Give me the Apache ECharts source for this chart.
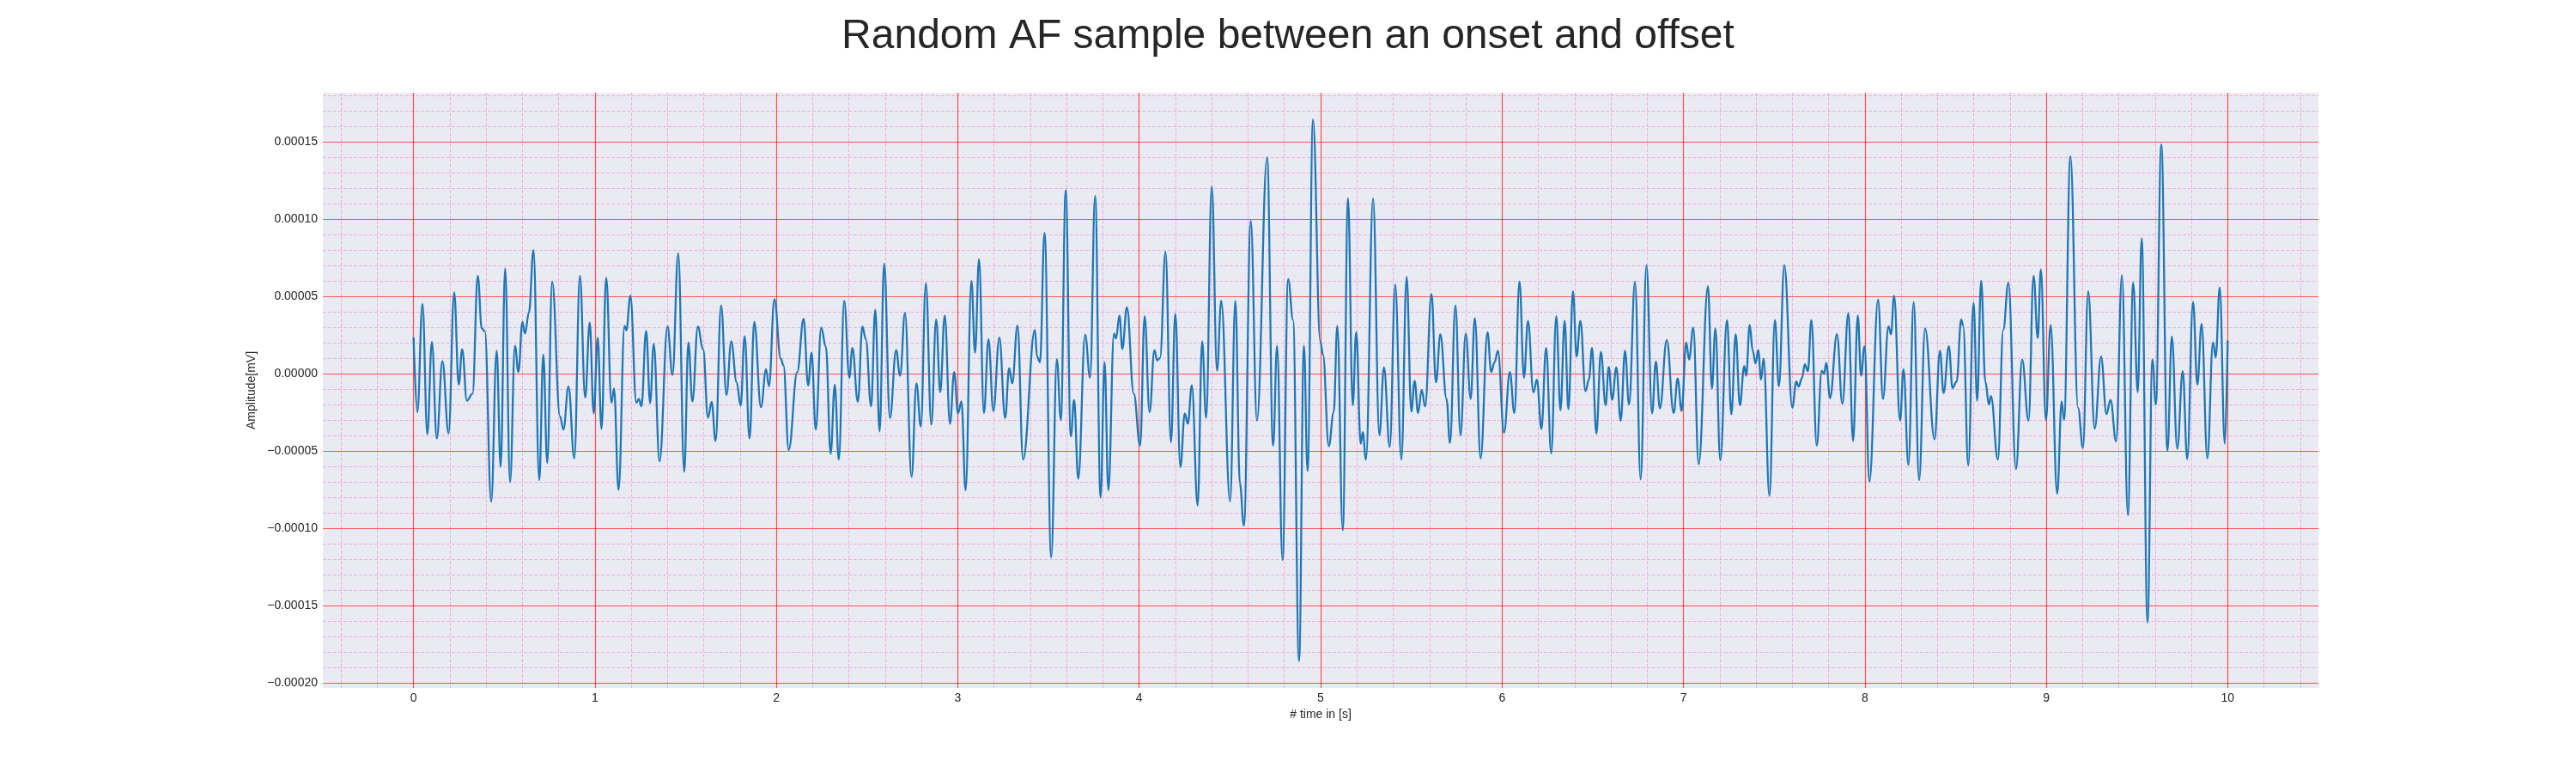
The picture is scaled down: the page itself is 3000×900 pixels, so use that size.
<!DOCTYPE html>
<html>
<head>
<meta charset="utf-8">
<title>Random AF sample between an onset and offset</title>
<script src="https://cdn.jsdelivr.net/npm/echarts@6.0.0/dist/echarts.min.js"></script>
<style>
  html, body { margin: 0; padding: 0; background: #ffffff; }
  #chart { width: 3000px; height: 900px; }
</style>
</head>
<body>
<div id="chart"></div>
<script>
// turning points of the trace
// time [s]
const timeS = [
  0.000, 0.021, 0.049, 0.076, 0.101, 0.128, 0.159, 0.193, 0.224, 0.249, 0.268, 0.294, 0.325, 0.354, 0.376, 0.393,
  0.428, 0.458, 0.480, 0.505, 0.532, 0.559, 0.578, 0.600, 0.614, 0.636, 0.661, 0.693, 0.715, 0.737, 0.764, 0.807,
  0.826, 0.854, 0.886, 0.917, 0.946, 0.971, 0.993, 1.015, 1.036, 1.062, 1.091, 1.105, 1.130, 1.163, 1.173, 1.195,
  1.228, 1.242, 1.256, 1.282, 1.304, 1.324, 1.356, 1.400, 1.427, 1.459, 1.492, 1.515, 1.537, 1.567, 1.596, 1.623,
  1.643, 1.665, 1.695, 1.725, 1.751, 1.781, 1.803, 1.825, 1.852, 1.878, 1.915, 1.943, 1.959, 1.989,
  2.024, 2.039, 2.068, 2.115, 2.150, 2.175, 2.194, 2.217, 2.247, 2.273, 2.299, 2.322, 2.344, 2.374, 2.402, 2.419,
  2.449, 2.474, 2.493, 2.522, 2.545, 2.569, 2.594, 2.626, 2.660, 2.682, 2.709, 2.745, 2.772, 2.796, 2.824, 2.854,
  2.881, 2.903, 2.928, 2.957, 2.980, 3.001, 3.020, 3.043, 3.075, 3.095, 3.117, 3.144, 3.169, 3.196, 3.229, 3.261,
  3.283, 3.300, 3.329, 3.360, 3.425, 3.437, 3.453, 3.478, 3.515, 3.546, 3.568, 3.595, 3.623, 3.641, 3.664, 3.702,
  3.729, 3.757, 3.787, 3.809, 3.830, 3.861, 3.872, 3.891, 3.907, 3.932, 3.970, 4.005, 4.030,
  4.057, 4.084, 4.099, 4.115, 4.145, 4.175, 4.199, 4.227, 4.251, 4.268, 4.290, 4.322, 4.347, 4.369, 4.400, 4.429,
  4.452, 4.501, 4.530, 4.555, 4.577, 4.615, 4.649, 4.705, 4.738, 4.760, 4.790, 4.821, 4.848, 4.881, 4.908, 4.928,
  4.958, 4.998, 5.013, 5.045, 5.072, 5.092, 5.122, 5.151, 5.177, 5.196, 5.221, 5.232, 5.250, 5.289, 5.324, 5.349,
  5.381, 5.411, 5.445, 5.474, 5.500, 5.518, 5.537, 5.557, 5.576, 5.611, 5.636, 5.660, 5.694, 5.713, 5.743, 5.771,
  5.800, 5.827, 5.850, 5.882, 5.920, 5.940, 5.959, 5.977, 6.011,
  6.043, 6.068, 6.096, 6.121, 6.143, 6.173, 6.192, 6.217, 6.243, 6.271, 6.299, 6.322, 6.345, 6.366, 6.391, 6.411,
  6.432, 6.460, 6.479, 6.496, 6.520, 6.545, 6.571, 6.588, 6.607, 6.630, 6.654, 6.678, 6.700, 6.733, 6.764, 6.796,
  6.827, 6.848, 6.870, 6.908, 6.946, 6.968, 6.990, 7.015, 7.031, 7.054, 7.084, 7.135, 7.157, 7.176, 7.203, 7.240,
  7.264, 7.288, 7.311, 7.335, 7.346, 7.365, 7.382, 7.398, 7.412, 7.428, 7.442, 7.474, 7.504, 7.526, 7.556, 7.600,
  7.622, 7.635, 7.654, 7.669, 7.686, 7.705, 7.735, 7.762, 7.775, 7.787, 7.808, 7.846, 7.876, 7.909, 7.935, 7.961,
  7.979, 7.998,
  8.025, 8.073, 8.100, 8.130, 8.144, 8.161, 8.194, 8.213, 8.240, 8.269, 8.299, 8.332, 8.384, 8.414, 8.434, 8.463,
  8.483, 8.506, 8.531, 8.542, 8.570, 8.599, 8.619, 8.641, 8.664, 8.684, 8.695, 8.733, 8.763, 8.791, 8.833, 8.867,
  8.902, 8.930, 8.953, 8.970, 8.998, 9.024, 9.060, 9.085, 9.098, 9.133, 9.175, 9.202, 9.231, 9.267, 9.302, 9.332,
  9.354, 9.385, 9.417, 9.450, 9.479, 9.504, 9.526, 9.558, 9.585, 9.604, 9.634, 9.668, 9.692, 9.722, 9.752, 9.777,
  9.809, 9.833, 9.856, 9.888, 9.919, 9.934, 9.956, 9.984, 10.000
];
// amplitude, in units of 1e-5 mV (the y axis runs in these units, labels show mV)
const ampE5 = [
  2.36, -2.49, 4.53, -3.90, 2.06, -4.18, 0.82, -3.86, 5.27, -0.70, 1.59, -1.74, -1.29, 6.34, 2.94, 2.74,
  -8.28, 1.49, -6.02, 6.82, -7.01, 1.82, 0.12, 3.36, 2.61, 3.98, 8.01, -6.89, 1.24, -5.77, 5.97, -2.74,
  -3.61, -0.82, -5.47, 6.34, -1.54, 3.31, -2.56, 2.34, -3.56, 6.22, -1.87, -0.95, -7.51, 3.11, 2.81, 5.05,
  -1.87, -1.62, -2.11, 2.79, -1.89, 1.92, -5.67, 3.08, -0.07, 7.81, -6.34, 2.04, -1.79, 3.06, 1.60, -2.84,
  -1.82, -4.35, 4.43, -1.37, 2.11, -0.55, -2.06, 2.44, -4.18, 3.36, -2.16, 0.30, -0.80, 4.83,
  0.99, 0.55, -4.93, 0.12, 3.56, -0.75, 1.37, -3.61, 2.99, 1.74, -5.17, -0.70, -5.55, 4.73, -0.25, 1.67,
  -1.82, 3.06, 2.24, -2.11, 4.15, -3.73, 7.14, -2.86, 1.54, -0.12, 3.96, -6.67, -0.62, -3.41, 5.87, -3.28,
  3.53, -1.19, 3.78, -3.23, 0.12, -2.56, -1.79, -7.54, 6.02, 1.37, 7.41, -2.54, 2.24, -2.41, 2.36, -2.86,
  0.37, -0.62, 3.13, -5.55, 2.84, 1.12, 0.75, 9.13, -11.89, 0.95, -2.99, 11.89, -4.05, -1.69, -6.79, 2.54,
  -0.25, 11.52, -8.01, 0.75, -7.54, 2.61, 2.29, 3.78, 1.62, 4.30, -1.29, -4.65, 3.73,
  -2.49, 1.54, 0.87, 1.04, 7.91, -4.43, 3.88, -6.04, -2.56, -3.23, -0.75, -8.53, 2.11, -2.86, 12.14, 0.20,
  4.73, -8.26, 4.73, -7.09, -9.83, 9.90, -3.03, 14.00, -4.65, 1.82, -12.06, 6.14, 3.48, -18.60, 1.82, -6.29,
  16.47, 2.11, 1.24, -4.68, -2.49, 3.11, -10.12, 11.37, -2.04, 2.71, -4.53, -3.78, -5.55, 11.37, -3.98, 0.42,
  -4.73, 5.77, -5.55, 6.27, -2.44, -0.45, -2.54, -1.04, -2.11, 5.17, -0.55, 2.56, -1.62, -4.48, 4.43, -3.98,
  2.61, -1.62, 3.61, -5.47, 2.69, 0.12, 0.75, 1.49, -3.81,
  0.12, -2.54, 5.97, -0.25, 3.43, -1.20, -0.37, -3.56, 1.67, -5.15, 3.73, -2.36, 3.43, -2.29, 5.35, 1.12,
  3.43, -1.12, -0.37, 1.67, -3.86, 1.42, -2.04, 0.45, -1.69, 0.42, -3.03, 1.49, -1.99, 5.97, -6.84, 7.04,
  -2.56, 0.80, -2.24, 2.19, -2.54, -0.30, -2.41, 2.04, 0.92, 2.99, -5.85, 5.67, -0.95, 2.94, -5.60, 3.48,
  -2.61, 2.56, -2.04, 0.50, -0.12, 3.16, 1.49, 0.67, 1.54, -0.37, 1.00, -7.91, 3.48, -0.80, 7.04, -2.19,
  -0.50, -0.82, -0.25, 0.62, 0.17, 3.48, -4.65, 0.20, 0.00, 0.70, -1.57, 2.56, -1.94, 3.93, -4.35, 3.78,
  -0.12, 1.79,
  -6.97, 4.80, -1.62, 3.08, 2.56, 5.05, -3.03, 0.30, -5.90, 4.65, -6.89, 2.94, -4.23, 1.49, -1.24, 1.79,
  -0.92, -0.50, 3.53, 3.11, -5.92, 4.60, -1.74, 6.02, -0.50, -1.99, -1.44, -5.55, 2.86, 5.90, -6.17, 0.92,
  -3.03, 6.34, 2.31, 6.77, -2.99, 3.16, -7.76, -1.79, -2.99, 14.10, -2.20, -4.80, 5.35, -3.55, 1.12, -2.61,
  -1.69, -4.38, 6.39, -9.15, 5.90, -1.19, 8.78, -16.09, 0.92, -1.99, 14.85, -4.98, 2.41, -4.85, 0.17, -5.52,
  4.65, -0.70, 3.23, -5.47, 2.04, 1.07, 5.60, -4.53, 2.16
];
const AMP_UNIT = 1e-5;

const xMajorTicks = [0, 1, 2, 3, 4, 5, 6, 7, 8, 9, 10];
// in 1e-5 mV
const yMajorTicks = [-20, -15, -10, -5, 0, 5, 10, 15];

const FONT = '"Liberation Sans", Arial, sans-serif';
const TEXT = '#262626';
const MAJOR = 'rgba(255,0,0,0.65)';
const MINOR = 'rgba(240,110,200,0.45)';

// minor grid: every 0.2 s and every 1e-5 mV
const xMinorTicks = [];
for (let k = -2; k <= 52; k++) {
  if (k % 5 !== 0) xMinorTicks.push(+(k * 0.2).toFixed(1));
}
const yMinorTicks = [];
for (let k = -20; k <= 18; k++) {
  if (k % 5 !== 0) yMinorTicks.push(k);
}

const signal = timeS.map((t, i) => [t, ampE5[i]]);

const gridLines = [];
xMinorTicks.forEach(v => gridLines.push({ xAxis: v, lineStyle: { color: MINOR, width: 1, type: [4, 2] } }));
yMinorTicks.forEach(v => gridLines.push({ yAxis: v, lineStyle: { color: MINOR, width: 1, type: [4, 2] } }));
xMajorTicks.forEach(v => gridLines.push({ xAxis: v, lineStyle: { color: MAJOR, width: 1.2, type: 'solid' } }));
yMajorTicks.forEach(v => gridLines.push({ yAxis: v, lineStyle: { color: MAJOR, width: 1.2, type: 'solid' } }));

const chart = echarts.init(document.getElementById('chart'), null, { renderer: 'canvas' });

chart.setOption({
  animation: false,
  backgroundColor: '#ffffff',
  title: {
    text: 'Random AF sample between an onset and offset',
    left: 'center',
    top: 14,
    textStyle: { fontFamily: FONT, fontSize: 48, fontWeight: 'normal', color: TEXT }
  },
  grid: {
    left: 376, right: 300, top: 108, bottom: 99,
    show: true, backgroundColor: '#EAEAF2', borderWidth: 0
  },
  xAxis: {
    type: 'value',
    min: -0.5,
    max: 10.5,
    splitNumber: 11,
    name: '# time in [s]',
    nameLocation: 'middle',
    nameGap: 24,
    nameTextStyle: { fontFamily: FONT, fontSize: 14, color: TEXT },
    axisLine: { show: false },
    axisTick: { show: false },
    splitLine: { show: false },
    axisLabel: {
      margin: 5,
      fontFamily: FONT, fontSize: 14, color: TEXT,
      formatter: v => (Math.abs(v - Math.round(v)) < 1e-6 ? String(Math.round(v)) : '')
    }
  },
  yAxis: {
    type: 'value',
    min: -20.34,
    max: 18.2,
    splitNumber: 8,
    name: 'Amplitude[mV]',
    nameLocation: 'middle',
    nameGap: 60,
    nameTextStyle: { fontFamily: FONT, fontSize: 14, color: TEXT },
    axisLine: { show: false },
    axisTick: { show: false },
    splitLine: { show: false },
    axisLabel: {
      margin: 6,
      fontFamily: FONT, fontSize: 14, color: TEXT,
      formatter: v => {
        const k = v / 5;
        if (Math.abs(k - Math.round(k)) > 1e-6) return '';
        return (Math.round(k) * 5 * AMP_UNIT).toFixed(5).replace('-', '\u2212');
      }
    }
  },
  series: [
    {
      name: 'grid',
      type: 'line',
      data: [],
      silent: true,
      z: 1,
      markLine: {
        silent: true,
        animation: false,
        symbol: ['none', 'none'],
        label: { show: false },
        emphasis: { disabled: true },
        data: gridLines
      }
    },
    {
      name: 'AF sample',
      type: 'line',
      data: signal,
      showSymbol: false,
      smooth: 0.4,
      smoothMonotone: 'x',
      z: 5,
      lineStyle: { color: '#1f77b4', width: 2.3 }
    }
  ]
});
</script>
</body>
</html>
